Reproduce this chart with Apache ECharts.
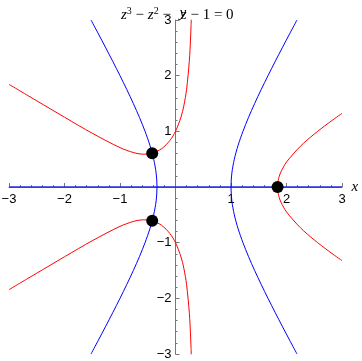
<!DOCTYPE html>
<html>
<head>
<meta charset="utf-8">
<script src="https://cdn.jsdelivr.net/npm/echarts@6/dist/echarts.min.js"></script>
<style>html,body{margin:0;padding:0;background:#fff}#c{width:362px;height:361px}</style>
</head>
<body>
<div id="c"></div>
<script>
// Im = 0 curve (blue hyperbola), read at these y values
var blueY      = [-3,-2.75,-2.5,-2.25,-2,-1.75,-1.5,-1.25,-1,-0.75,-0.5,-0.25,0,0.25,0.5,0.75,1,1.25,1.5,1.75,2,2.25,2.5,2.75,3];
var blueRightX = [2.1893,2.0553,1.9232,1.7934,1.6667,1.5438,1.4262,1.3158,1.2153,1.1283,1.0598,1.0154,1,1.0154,1.0598,1.1283,1.2153,1.3158,1.4262,1.5438,1.6667,1.7934,1.9232,2.0553,2.1893];
var blueLeftX  = [-1.5226,-1.3887,-1.2566,-1.1268,-1,-0.8772,-0.7596,-0.6492,-0.5486,-0.4616,-0.3931,-0.3488,-0.3333,-0.3488,-0.3931,-0.4616,-0.5486,-0.6492,-0.7596,-0.8772,-1,-1.1268,-1.2566,-1.3887,-1.5226];
var blueAxisX  = [-3,3];
var blueAxisY  = [0,0];

// Re = 0 curve (red), left branches
var redLeftX      = [-3,-2.5,-2,-1.5,-1,-0.75,-0.6,-0.5,-0.42,-0.25,-0.1,0,0.1,0.15,0.2,0.25,0.27,0.28,0.284];
var redLeftUpperY = [1.8439,1.5483,1.2536,0.9653,0.7071,0.6163,0.5904,0.5916,0.6062,0.6879,0.8371,1,1.2587,1.4580,1.7550,2.2776,2.6390,2.8901,3.011];
var redLeftLowerY = [-1.8439,-1.5483,-1.2536,-0.9653,-0.7071,-0.6163,-0.5904,-0.5916,-0.6062,-0.6879,-0.8371,-1,-1.2587,-1.4580,-1.7550,-2.2776,-2.6390,-2.8901,-3.011];
// Re = 0 curve (red), right branch
var redRightX = [3,2.75,2.5,2.25,2,1.9,1.87,1.85,1.8393,1.85,1.87,1.9,2,2.25,2.5,2.75,3];
var redRightY = [-1.3229,-1.1438,-0.9507,-0.7317,-0.4472,-0.2725,-0.1933,-0.1140,0,0.1140,0.1933,0.2725,0.4472,0.7317,0.9507,1.1438,1.3229];

// roots
var rootX = [1.8393,-0.4196,-0.4196];
var rootY = [0,0.6063,-0.6063];

function pairs(xs, ys){ var o=[]; for(var i=0;i<xs.length;i++) o.push([xs[i],ys[i]]); return o; }
function fmt(v){ if(v===0) return ''; return String(v).replace('-', '\u2212'); }

var chart = echarts.init(document.getElementById('c'));
var axisCol = '#777';
var lblStyle = {color:'#000', fontFamily:'Liberation Sans, Arial, sans-serif', fontSize:13};
var serif = 'Liberation Serif, Times New Roman, serif';
var GW = 333, GH = 334;

function line(data, color, w){
  return {type:'line', data:data, smooth:0.3, showSymbol:false, symbol:'none', clip:true,
          lineStyle:{color:color, width:w||1}, silent:true, animation:false};
}

chart.setOption({
  animation:false,
  title:{
    text:'{i|z}{s|3}{t| \u2212 }{i|z}{s|2}{t| \u2212}{g|}{i|z}{t| \u2212 1 = 0}',
    left:116, top:1,
    textStyle:{fontWeight:'normal', rich:{
      i:{fontFamily:serif, fontStyle:'italic', fontWeight:'normal', fontSize:15, color:'#000'},
      s:{fontFamily:serif, fontWeight:'normal', fontSize:10, color:'#000', padding:[0,0,8,0]},
      t:{fontFamily:serif, fontWeight:'normal', fontSize:15, color:'#000'},
      g:{width:10}
    }}
  },
  grid:{left:9, right:20, top:20, bottom:7, containLabel:false,
        outerBounds:{left:-60, right:-60, top:-60, bottom:-60}},
  xAxis:{
    type:'value', min:-3, max:3, interval:1, position:'bottom', offset:-GH/2,
    name:'x', nameLocation:'end', nameGap:8,
    nameTextStyle:{fontFamily:serif, fontStyle:'italic', fontSize:15, color:'#000', verticalAlign:'middle'},
    axisLine:{onZero:false, lineStyle:{color:axisCol, width:1}},
    axisTick:{inside:true, length:4, lineStyle:{color:axisCol}},
    minorTick:{show:true, splitNumber:5, length:2, lineStyle:{color:axisCol}},
    splitLine:{show:false},
    axisLabel:Object.assign({margin:6, formatter:fmt, showMinLabel:true, showMaxLabel:true}, lblStyle)
  },
  yAxis:{
    type:'value', min:-3, max:3, interval:1, position:'left', offset:-GW/2,
    name:'y', nameLocation:'end', nameGap:-1,
    nameTextStyle:{fontFamily:serif, fontStyle:'italic', fontSize:15, color:'#000', align:'left', padding:[0,0,0,4]},
    axisLine:{onZero:false, lineStyle:{color:axisCol, width:1}},
    axisTick:{inside:true, length:4, lineStyle:{color:axisCol}},
    minorTick:{show:true, splitNumber:5, length:2, lineStyle:{color:axisCol}},
    splitLine:{show:false},
    axisLabel:Object.assign({margin:4, formatter:fmt, showMinLabel:true, showMaxLabel:true}, lblStyle)
  },
  series:[
    line(pairs(blueAxisX, blueAxisY), 'rgba(40,40,230,0.75)', 2),
    line(pairs(blueRightX, blueY), '#0000ff', 1),
    line(pairs(blueLeftX, blueY), '#0000ff', 1),
    line(pairs(redLeftX, redLeftUpperY), '#ff0000', 1),
    line(pairs(redLeftX, redLeftLowerY), '#ff0000', 1),
    line(pairs(redRightX, redRightY), '#ff0000', 1),
    {type:'scatter', data:pairs(rootX, rootY), symbol:'circle', symbolSize:12,
     itemStyle:{color:'#000', opacity:1}, silent:true, z:5}
  ]
});
</script>
</body>
</html>
